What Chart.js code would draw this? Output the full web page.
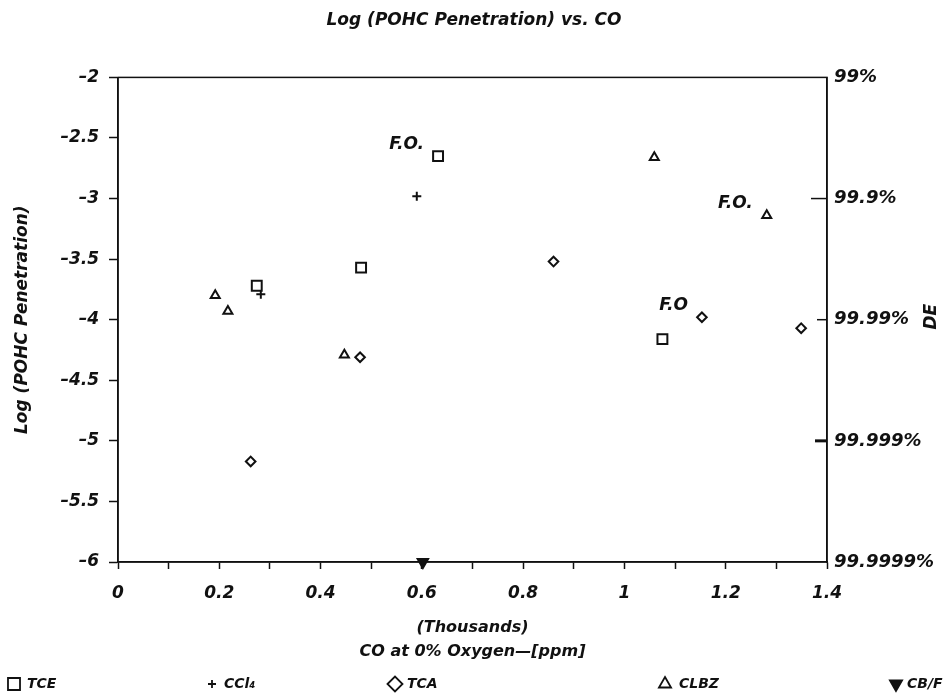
<!DOCTYPE html>
<html>
<head>
<meta charset="utf-8">
<title>Log (POHC Penetration) vs. CO</title>
<script src="https://cdn.jsdelivr.net/npm/chart.js@4/dist/chart.umd.min.js"></script>
<style>
  html, body { margin: 0; padding: 0; background: #fff; }
  canvas { display: block; }
</style>
</head>
<body>
<canvas id="penChart" width="948" height="698"></canvas>
<script>
// CO at 0% oxygen (thousands of ppm) and log(POHC penetration), one pair of arrays per POHC
const tceCO = [0.274, 0.480, 0.632, 1.075];
const tceLog = [-3.72, -3.57, -2.65, -4.16];
const ccl4CO = [0.282, 0.590];
const ccl4Log = [-3.79, -2.98];
const tcaCO = [0.262, 0.478, 0.860, 1.153, 1.349];
const tcaLog = [-5.17, -4.31, -3.52, -3.98, -4.07];
const clbzCO = [0.192, 0.217, 0.447, 1.059, 1.281];
const clbzLog = [-3.80, -3.93, -4.29, -2.66, -3.14];
const cbfCO = [0.602];
const cbfLog = [-6.0];

const seriesNames = ["TCE", "CCl\u2084", "TCA", "CLBZ", "CB/F"];

// right axis: destruction efficiency for log = -2 .. -6
const deTicks = ["99%", "99.9%", "99.99%", "99.999%", "99.9999%"];
const deMarks = [-3, -4, -5];

// F.O. notes: which series / point they sit next to
const foNotes = [
  { series: 0, index: 2, text: "F.O." },
  { series: 3, index: 4, text: "F.O." },
  { series: 2, index: 3, text: "F.O" },
];

const ink = "#111";
const fontFamily = "'DejaVu Sans', 'Liberation Sans', sans-serif";
Chart.defaults.font.family = fontFamily;
Chart.defaults.font.style = "italic";
Chart.defaults.font.weight = "bold";
Chart.defaults.color = ink;

function pairs(xs, ys) {
  return xs.map((x, i) => ({ x: x, y: ys[i] }));
}

const markerStyles = [
  { pointStyle: "rect", radius: 7, rotation: 0, fill: "#fff", legendRadius: 8.5 },
  { pointStyle: "cross", radius: 4.5, rotation: 0, fill: "#fff", legendRadius: 4 },
  { pointStyle: "rectRot", radius: 4.8, rotation: 0, fill: "#fff", legendRadius: 7.5 },
  { pointStyle: "triangle", radius: 5.2, rotation: 0, fill: "#fff", legendRadius: 7 },
  { pointStyle: "triangle", radius: 6, rotation: 180, fill: ink, legendRadius: 7 },
];

const seriesData = [
  pairs(tceCO, tceLog),
  pairs(ccl4CO, ccl4Log),
  pairs(tcaCO, tcaLog),
  pairs(clbzCO, clbzLog),
  pairs(cbfCO, cbfLog),
];

const datasets = seriesNames.map((name, i) => ({
  label: name,
  data: seriesData[i],
  showLine: false,
  clip: false,
  pointStyle: markerStyles[i].pointStyle,
  rotation: markerStyles[i].rotation,
  pointRadius: markerStyles[i].radius,
  pointHoverRadius: markerStyles[i].radius,
  pointBorderWidth: 2,
  pointBorderColor: ink,
  pointBackgroundColor: markerStyles[i].fill,
}));

// frame, inward DE marks, F.O. notes, DE title and the spread-out legend
const extras = {
  id: "extras",
  beforeDatasetsDraw(chart) {
    const { ctx, chartArea } = chart;
    ctx.save();
    ctx.strokeStyle = ink;
    ctx.lineWidth = 1.5;
    ctx.strokeRect(chartArea.left, chartArea.top,
      chartArea.right - chartArea.left, chartArea.bottom - chartArea.top);
    // short inward marks on the DE axis
    const y1 = chart.scales.y1;
    const lens = [16, 10, 12];
    const widths = [1.5, 1.5, 3];
    deMarks.forEach((v, i) => {
      const py = y1.getPixelForValue(v);
      ctx.lineWidth = widths[i];
      ctx.beginPath();
      ctx.moveTo(chartArea.right - lens[i], py);
      ctx.lineTo(chartArea.right, py);
      ctx.stroke();
    });
    ctx.restore();
  },
  afterDraw(chart) {
    const { ctx, chartArea } = chart;
    ctx.save();
    ctx.fillStyle = ink;

    // F.O. notes
    ctx.font = "italic bold 17px " + fontFamily;
    ctx.textAlign = "right";
    ctx.textBaseline = "middle";
    foNotes.forEach((n) => {
      const pt = chart.getDatasetMeta(n.series).data[n.index];
      ctx.fillText(n.text, pt.x - 14, pt.y - 12);
    });

    // DE axis title, reading bottom to top
    ctx.save();
    ctx.translate(932, (chartArea.top + chartArea.bottom) / 2 - 3);
    ctx.rotate(-Math.PI / 2);
    ctx.textAlign = "center";
    ctx.fillText("DE", 0, 0);
    ctx.restore();

    // legend row
    const slots = [14, 212, 395, 665, 896];
    const gaps = [13, 12, 12, 14, 11];
    const ly = 684;
    ctx.font = "italic bold 14px " + fontFamily;
    ctx.textAlign = "left";
    chart.data.datasets.forEach((ds, i) => {
      const m = markerStyles[i];
      ctx.strokeStyle = ink;
      ctx.fillStyle = m.fill;
      ctx.lineWidth = 1.8;
      Chart.helpers.drawPoint(ctx, {
        pointStyle: m.pointStyle,
        rotation: m.rotation,
        radius: m.legendRadius,
        borderWidth: 1.8,
      }, slots[i], ly);
      ctx.fillStyle = ink;
      ctx.fillText(ds.label, slots[i] + gaps[i], ly);
    });
    ctx.restore();
  },
};

const penCtx = document.getElementById("penChart").getContext("2d");
const penChart = new Chart(penCtx, {
  type: "scatter",
  data: { datasets: datasets },
  plugins: [extras],
  options: {
    responsive: false,
    animation: false,
    devicePixelRatio: 1,
    layout: { padding: { left: 0, right: 0, top: 0, bottom: 35 } },
    plugins: {
      legend: { display: false },
      tooltip: { enabled: false },
      title: {
        display: true,
        text: "Log (POHC Penetration) vs. CO",
        color: ink,
        font: { size: 17, weight: "bold", style: "italic" },
        padding: { top: 10, bottom: 47 },
      },
    },
    scales: {
      x: {
        type: "linear",
        position: "bottom",
        min: 0,
        max: 1.4,
        ticks: {
          stepSize: 0.1,
          autoSkip: false,
          maxRotation: 0,
          padding: 14,
          color: ink,
          font: { size: 17 },
          callback: (v) => {
            const k = Math.round(v * 10);
            return k % 2 === 0 ? String(k / 10) : "";
          },
        },
        grid: {
          drawOnChartArea: false,
          drawTicks: true,
          tickLength: 7,
          tickColor: ink,
          tickWidth: 1.5,
        },
        border: { display: true, color: ink, width: 1.5 },
        title: {
          display: true,
          text: ["(Thousands)", "CO at 0% Oxygen\u2014[ppm]"],
          color: ink,
          font: { size: 16, lineHeight: 1.45 },
          padding: { top: 13, bottom: 0 },
        },
        afterFit: (s) => { s.height = 101; },
      },
      y: {
        type: "linear",
        position: "left",
        min: -6,
        max: -2,
        ticks: {
          stepSize: 0.5,
          padding: 10,
          color: ink,
          font: { size: 17 },
          callback: (v) => String(v).replace("-", "\u2013"),
        },
        grid: {
          drawOnChartArea: false,
          drawTicks: true,
          tickLength: 9,
          tickColor: ink,
          tickWidth: 1.5,
        },
        border: { display: true, color: ink, width: 1.5 },
        title: {
          display: true,
          text: "Log (POHC Penetration)",
          color: ink,
          font: { size: 17 },
          padding: { top: 12, bottom: 0 },
        },
        afterFit: (s) => { s.width = 118; },
      },
      y1: {
        type: "linear",
        position: "right",
        min: -6,
        max: -2,
        ticks: {
          stepSize: 1,
          padding: 7,
          color: ink,
          font: { size: 18 },
          callback: (v) => deTicks[Math.round(-v) - 2],
        },
        grid: { drawOnChartArea: false, drawTicks: false },
        border: { display: true, color: ink, width: 1.5 },
        afterFit: (s) => { s.width = 121; },
      },
    },
  },
});
</script>
</body>
</html>
